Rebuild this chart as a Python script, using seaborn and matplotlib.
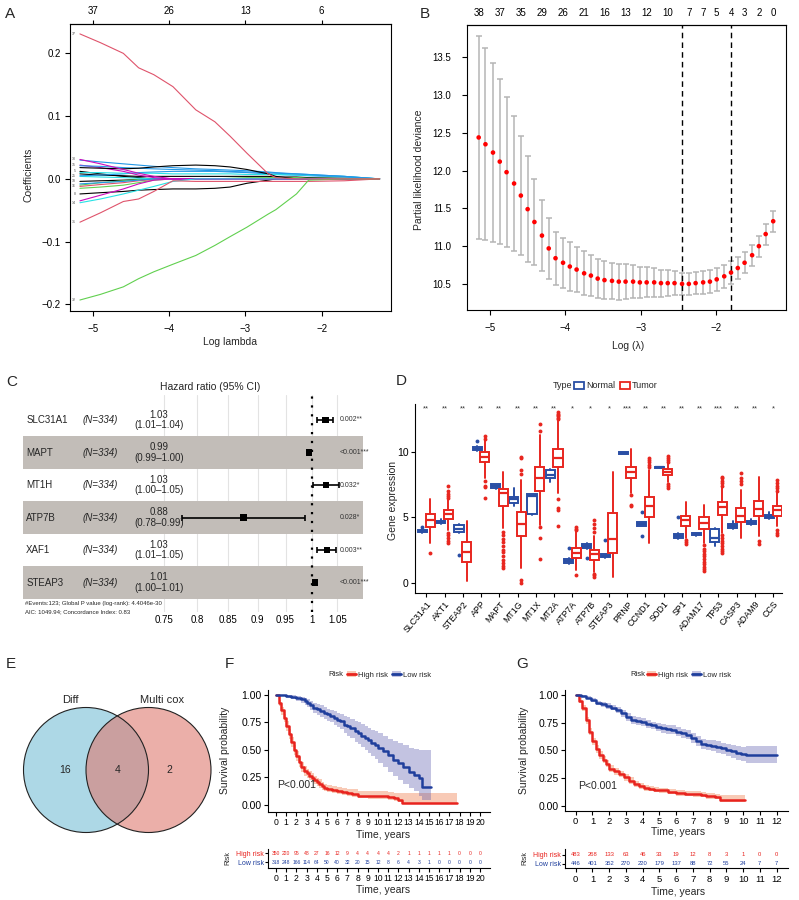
import numpy as np
import matplotlib
matplotlib.use("Agg")
import matplotlib.pyplot as plt
import seaborn as sns
from matplotlib.patches import Circle, Patch
from matplotlib.lines import Line2D

# ---------------- A: lasso coefficient paths ----------------
lasso_loglam = [-5.17, -4.9, -4.6, -4.4, -4.2, -3.95, -3.65, -3.4, -3.2, -2.98, -2.7, -2.6, -2.33, -2.17, -1.7, -1.24]
p_red37 = [0.231, 0.217, 0.200, 0.177, 0.166, 0.147, 0.110, 0.091, 0.068, 0.041, 0.008, 0.002, 0, 0, 0, 0]
p_green32 = [-0.193, -0.184, -0.172, -0.159, -0.148, -0.136, -0.122, -0.106, -0.092, -0.077, -0.056, -0.049, -0.024, -0.002, 0, 0]
p_red31 = [-0.069, -0.054, -0.036, -0.032, -0.020, -0.003, -0.004, -0.004, -0.004, -0.004, -0.004, -0.004, -0.004, -0.004, -0.003, 0]
p_cyan1 = [-0.038, -0.032, -0.024, -0.018, -0.012, -0.004, 0, 0, 0, 0, 0, 0, 0, 0, 0, 0]
p_cyan2 = [0.010, 0.010, 0.009, 0.009, 0.009, 0.008, 0.008, 0.008, 0.008, 0.007, 0.007, 0.007, 0.006, 0.006, 0.004, 0]
p_mag1 = [0.031, 0.024, 0.015, 0.009, 0.004, 0, 0, 0, 0, 0, 0, 0, 0, 0, 0, 0]
p_mag2 = [-0.035, -0.026, -0.016, -0.008, -0.002, 0, 0, 0, 0, 0, 0, 0, 0, 0, 0, 0]
p_mag3 = [0.022, 0.018, 0.012, 0.006, 0.002, 0, 0, 0, 0, 0, 0, 0, 0, 0, 0, 0]
p_blue1 = [0.030, 0.027, 0.024, 0.022, 0.020, 0.018, 0.016, 0.015, 0.014, 0.013, 0.011, 0.010, 0.008, 0.007, 0.004, 0]
p_blue2 = [0.021, 0.020, 0.018, 0.017, 0.016, 0.015, 0.014, 0.013, 0.012, 0.011, 0.010, 0.009, 0.008, 0.007, 0.004, 0]
p_blue3 = [-0.008, -0.006, -0.004, -0.002, 0, 0, 0, 0, 0, 0, 0, 0, 0, 0, 0, 0]
p_blue4 = [0.005, 0.006, 0.008, 0.010, 0.011, 0.012, 0.012, 0.012, 0.011, 0.010, 0.008, 0.007, 0.006, 0.005, 0.003, 0]
p_black1 = [0.018, 0.017, 0.016, 0.017, 0.019, 0.021, 0.022, 0.021, 0.019, 0.015, 0.008, 0.004, 0, 0, 0, 0]
p_black2 = [-0.024, -0.022, -0.020, -0.018, -0.017, -0.016, -0.016, -0.015, -0.013, -0.007, -0.002, 0, 0, 0, 0, 0]
p_black3 = [0.008, 0.006, 0.005, 0.004, 0.004, 0.004, 0.004, 0.004, 0.004, 0.004, 0.004, 0.003, 0.003, 0.002, 0.001, 0]
p_black4 = [0.012, 0.008, 0.004, 0.002, 0, 0, 0, 0, 0, 0, 0, 0, 0, 0, 0, 0]
p_black5 = [-0.004, -0.003, -0.002, -0.001, 0, 0, 0, 0, 0, 0, 0, 0, 0, 0, 0, 0]
p_green2 = [-0.015, -0.013, -0.010, -0.006, -0.002, 0, 0, 0, 0, 0, 0, 0, 0, 0, 0, 0]
p_green3 = [-0.010, -0.006, -0.003, -0.001, 0, 0, 0, 0, 0.001, 0.002, 0.002, 0.002, 0.002, 0.001, 0.001, 0]
p_red4 = [-0.012, -0.009, -0.006, -0.003, -0.001, 0, 0, 0, 0, 0, 0, 0, 0, 0, 0, 0]
p_cyan3 = [0.004, 0.003, 0.002, 0.001, 0, 0, 0, 0, 0, 0, 0, 0, 0, 0, 0, 0]
lasso_paths = [p_black3, p_black4, p_black5, p_green2, p_green3, p_red4, p_cyan3, p_blue3, p_blue4,
               p_cyan2, p_mag3, p_blue2, p_blue1, p_black2, p_black1, p_mag2, p_mag1, p_cyan1,
               p_red31, p_green32, p_red37]
lasso_colors = ["black", "black", "black", "#61D04F", "#61D04F", "#DF536B", "#28E2E5", "#2297E6", "#2297E6",
                "#28E2E5", "#CD0BBC", "#2297E6", "#2297E6", "black", "black", "#CD0BBC", "#CD0BBC", "#28E2E5",
                "#DF536B", "#61D04F", "#DF536B"]
# variable index printed at the left end of a path ("" = hidden under the cluster)
lasso_tags = ["", "5", "18", "", "", "16", "", "", "25", "", "35", "", "", "8", "", "",
              "30", "14", "31", "32", "37"]
lasso_top_ticks = [-5, -4, -3, -2]
lasso_top_labels = ["37", "26", "13", "6"]

# ---------------- B: cross-validation curve ----------------
cv_loglam = [-5.15, -5.06, -4.96, -4.87, -4.78, -4.68, -4.59, -4.50, -4.41, -4.31, -4.22, -4.13, -4.03, -3.94,
             -3.85, -3.75, -3.66, -3.57, -3.48, -3.38, -3.29, -3.20, -3.10, -3.01, -2.92, -2.82, -2.73, -2.64,
             -2.55, -2.45, -2.36, -2.27, -2.17, -2.08, -1.99, -1.89, -1.80, -1.71, -1.62, -1.52, -1.43, -1.34, -1.24]
cv_mean = [12.44, 12.35, 12.24, 12.12, 11.98, 11.83, 11.67, 11.49, 11.32, 11.14, 10.97, 10.84, 10.78, 10.73,
           10.69, 10.64, 10.61, 10.57, 10.55, 10.54, 10.53, 10.53, 10.53, 10.52, 10.52, 10.52, 10.51, 10.51,
           10.51, 10.50, 10.50, 10.51, 10.52, 10.53, 10.56, 10.60, 10.65, 10.71, 10.78, 10.88, 11.00, 11.16, 11.33]
cv_se = [1.35, 1.27, 1.18, 1.09, 0.99, 0.90, 0.79, 0.70, 0.57, 0.47, 0.40, 0.35, 0.33, 0.32, 0.30, 0.29,
         0.27, 0.26, 0.25, 0.24, 0.24, 0.23, 0.22, 0.21, 0.20, 0.19, 0.18, 0.17, 0.16, 0.15, 0.15, 0.15,
         0.15, 0.15, 0.15, 0.15, 0.15, 0.15, 0.14, 0.14, 0.14, 0.14, 0.14]
cv_top_idx = [0, 3, 6, 9, 12, 15, 18, 21, 24, 27, 30, 32, 34, 36, 38, 40, 42]
cv_top_labels = ["38", "37", "35", "29", "26", "21", "16", "13", "12", "10", "7", "7", "5", "4", "3", "2", "0"]
log_lambda_min = -2.45
log_lambda_1se = -1.80

# ---------------- C: multivariate Cox forest ----------------
cox_genes = ["SLC31A1", "MAPT", "MT1H", "ATP7B", "XAF1", "STEAP3"]
cox_n = 334
cox_hr = [1.026, 0.994, 1.027, 0.876, 1.029, 1.006]
cox_lo = [1.010, 0.990, 1.001, 0.778, 1.010, 1.003]
cox_hi = [1.041, 0.998, 1.054, 0.986, 1.047, 1.009]
cox_p = ["0.002", "<0.001", "0.032", "0.028", "0.003", "<0.001"]
cox_stars = ["**", "***", "*", "*", "**", "***"]
hr_ticks = [0.75, 0.8, 0.85, 0.9, 0.95, 1, 1.05]
hr_tick_labels = ["0.75", "0.8", "0.85", "0.9", "0.95", "1", "1.05"]
cox_note1 = "#Events:123; Global P value (log-rank): 4.4046e-30"
cox_note2 = "AIC: 1049.94; Concordance Index: 0.83"

# ---------------- D: expression boxplots ----------------
genes = ["SLC31A1", "AKT1", "STEAP2", "APP", "MAPT", "MT1G", "MT1X", "MT2A", "ATP7A", "ATP7B",
         "STEAP3", "PRNP", "CCND1", "SOD1", "SP1", "ADAM17", "TP53", "CASP3", "ADAM9", "CCS"]
sig_marks = ["**", "**", "**", "**", "**", "**", "**", "**", "*", "*", "*", "***", "**", "**", "**",
             "**", "***", "**", "**", "*"]
# whislo, q1, median, q3, whishi
normal_box = [[3.75, 3.85, 3.95, 4.03, 4.20], [4.50, 4.58, 4.65, 4.72, 4.85], [3.77, 3.85, 4.10, 4.40, 4.50],
              [10.05, 10.12, 10.23, 10.34, 10.45], [7.15, 7.22, 7.38, 7.50, 7.55], [5.85, 6.11, 6.36, 6.56, 7.25],
              [5.20, 5.25, 6.65, 6.75, 6.80], [7.66, 7.96, 8.22, 8.60, 8.68], [1.45, 1.52, 1.65, 1.80, 1.85],
              [2.60, 2.65, 2.80, 2.97, 3.00], [1.90, 1.93, 2.04, 2.18, 2.20], [9.80, 9.84, 9.90, 9.96, 10.00],
              [4.30, 4.35, 4.48, 4.60, 4.65], [8.72, 8.75, 8.80, 8.84, 8.86], [3.31, 3.40, 3.56, 3.70, 3.75],
              [3.58, 3.62, 3.69, 3.75, 3.78], [2.82, 3.10, 3.44, 4.10, 4.15], [4.10, 4.17, 4.33, 4.47, 4.70],
              [4.40, 4.45, 4.58, 4.70, 4.86], [4.86, 4.90, 5.01, 5.15, 5.42]]
normal_out = [[4.25], [], [2.11], [10.81], [], [], [], [], [2.62], [1.86], [3.26], [], [5.42, 3.59], [],
              [5.04], [], [], [], [], []]
tumor_box = [[3.00, 4.27, 4.76, 5.24, 6.36], [4.00, 4.89, 5.24, 5.55, 6.30], [0.08, 1.60, 2.37, 3.08, 4.71],
             [8.02, 9.19, 9.59, 9.95, 10.90], [4.15, 5.88, 6.82, 7.15, 8.47], [1.09, 3.56, 4.48, 5.39, 7.84],
             [4.40, 7.02, 7.96, 8.80, 11.30], [6.82, 8.80, 9.52, 10.20, 12.40], [0.97, 1.91, 2.29, 2.62, 3.89],
             [0.84, 1.73, 2.19, 2.49, 3.59], [0.46, 2.24, 3.33, 5.32, 8.42], [6.82, 8.02, 8.42, 8.80, 10.18],
             [3.00, 5.01, 5.88, 6.54, 8.60], [7.66, 8.24, 8.47, 8.68, 9.11], [3.38, 4.35, 4.76, 5.11, 6.13],
             [3.00, 4.10, 4.58, 5.04, 5.93], [3.77, 5.17, 5.80, 6.18, 7.33], [3.44, 4.66, 5.11, 5.73, 7.07],
             [3.59, 5.09, 5.62, 6.23, 8.09], [4.33, 5.11, 5.55, 5.88, 6.95]]
tumor_out = [[2.24],
             [3.0, 3.2, 3.4, 3.6, 3.8, 6.5, 6.6, 6.8, 7.0, 7.4],
             [],
             [7.75, 7.4, 7.3, 6.44, 11.0, 11.2],
             [3.9, 3.6, 3.3, 3.1, 2.8, 2.5, 2.3, 2.0, 1.7, 1.5, 1.3, 1.1],
             [8.27, 8.6, 9.5, 9.6, 0.2, 0.0],
             [4.27, 3.38, 1.78, 11.6, 12.09],
             [6.39, 5.67, 5.55, 4.33, 12.5, 12.6, 12.7, 12.8, 12.9, 13.05],
             [4.0, 4.1, 4.27, 0.59],
             [3.9, 4.2, 4.5, 4.78, 0.66, 0.55, 0.45],
             [],
             [6.69, 5.93, 5.85],
             [8.8, 9.0, 9.2, 9.4, 9.55],
             [9.24, 9.4, 9.55, 9.7, 7.5, 7.35, 7.2],
             [3.26, 3.1, 2.93],
             [2.87, 2.6, 2.4, 2.2, 2.0, 1.8, 1.6, 1.4, 1.2, 1.0, 0.89],
             [7.4, 7.6, 7.8, 8.0, 8.09, 3.64, 3.4, 3.2, 3.0, 2.8, 2.6, 2.4, 2.24],
             [7.5, 7.8, 8.0, 8.35],
             [3.2, 2.95],
             [7.0, 7.2, 7.4, 7.6, 7.84, 4.0, 3.8, 3.64]]

# ---------------- E: Venn ----------------
venn_sets = ["Diff", "Multi cox"]
venn_counts = [16, 4, 2]

# ---------------- F: KM training ----------------
f_hi_t = [0, 0.25, 0.5, 0.75, 1.0, 1.25, 1.5, 1.75, 2.0, 2.25, 2.5, 2.75, 3.0, 3.25, 3.5, 3.75, 4.0, 4.25,
          4.5, 4.75, 5.0, 5.5, 6.0, 6.5, 7.0, 7.5, 8.0, 9.0, 10.0, 11.0, 11.6, 12.0, 12.4, 17.7]
f_hi_s = [1.0, 0.93, 0.86, 0.79, 0.72, 0.645, 0.57, 0.50, 0.44, 0.39, 0.345, 0.31, 0.285, 0.265, 0.245, 0.225,
          0.205, 0.19, 0.165, 0.152, 0.145, 0.135, 0.125, 0.115, 0.108, 0.10, 0.08, 0.076, 0.074, 0.072, 0.06,
          0.04, 0.015, 0.015]
f_hi_up = [1.0, 0.955, 0.895, 0.83, 0.765, 0.69, 0.615, 0.545, 0.485, 0.435, 0.39, 0.355, 0.325, 0.305, 0.285,
           0.265, 0.245, 0.23, 0.205, 0.19, 0.18, 0.17, 0.16, 0.15, 0.145, 0.14, 0.125, 0.12, 0.12, 0.118, 0.11,
           0.105, 0.105, 0.105]
f_hi_lo = [1.0, 0.90, 0.82, 0.75, 0.675, 0.60, 0.525, 0.455, 0.395, 0.345, 0.30, 0.265, 0.245, 0.225, 0.205,
           0.19, 0.17, 0.155, 0.13, 0.12, 0.113, 0.103, 0.093, 0.083, 0.077, 0.07, 0.058, 0.052, 0.05, 0.046,
           0.036, 0.02, 0.003, 0.003]
f_lo_t = [0, 0.5, 1.0, 1.5, 2.0, 2.5, 2.8, 3.0, 3.3, 3.6, 4.0, 4.3, 4.7, 5.0, 5.3, 5.7, 6.0, 6.3, 6.7, 7.0,
          7.3, 7.7, 8.0, 8.3, 8.7, 9.0, 9.3, 9.7, 10.0, 10.5, 11.0, 11.5, 12.0, 12.5, 13.0, 13.5, 14.0, 14.3, 15.2]
f_lo_s = [1.0, 1.0, 0.99, 0.985, 0.975, 0.96, 0.945, 0.93, 0.905, 0.885, 0.87, 0.855, 0.84, 0.825, 0.81, 0.79,
          0.775, 0.76, 0.73, 0.715, 0.70, 0.67, 0.655, 0.63, 0.61, 0.585, 0.565, 0.54, 0.515, 0.49, 0.45, 0.41,
          0.38, 0.34, 0.30, 0.27, 0.24, 0.16, 0.16]
f_lo_up = [1.0, 1.0, 1.0, 1.0, 0.995, 0.985, 0.975, 0.965, 0.945, 0.93, 0.92, 0.905, 0.89, 0.875, 0.865, 0.85,
           0.84, 0.83, 0.81, 0.80, 0.785, 0.765, 0.75, 0.735, 0.72, 0.70, 0.685, 0.67, 0.655, 0.63, 0.60, 0.58,
           0.56, 0.54, 0.52, 0.51, 0.50, 0.50, 0.50]
f_lo_lo = [1.0, 1.0, 0.975, 0.965, 0.95, 0.93, 0.91, 0.895, 0.865, 0.84, 0.82, 0.80, 0.785, 0.765, 0.75, 0.725,
           0.705, 0.69, 0.65, 0.63, 0.61, 0.575, 0.555, 0.525, 0.50, 0.47, 0.445, 0.415, 0.38, 0.345, 0.30, 0.26,
           0.22, 0.19, 0.15, 0.12, 0.08, 0.04, 0.04]
f_risk_hi = [350, 220, 95, 48, 27, 16, 12, 9, 4, 4, 4, 4, 2, 1, 1, 1, 1, 1, 0, 0, 0]
f_risk_lo = [318, 248, 166, 114, 64, 50, 40, 32, 20, 15, 12, 8, 6, 4, 3, 1, 0, 0, 0, 0, 0]

# ---------------- G: KM validation ----------------
g_hi_t = [0, 0.2, 0.4, 0.6, 0.8, 1.0, 1.2, 1.4, 1.6, 1.8, 2.0, 2.3, 2.6, 2.9, 3.2, 3.5, 3.8, 4.1, 4.4, 4.7,
          5.0, 5.5, 6.0, 6.5, 7.0, 7.5, 7.8, 8.3, 8.6, 10.1]
g_hi_s = [1.0, 0.95, 0.88, 0.77, 0.67, 0.58, 0.515, 0.46, 0.415, 0.38, 0.335, 0.31, 0.285, 0.255, 0.225, 0.195,
          0.175, 0.16, 0.155, 0.145, 0.138, 0.128, 0.115, 0.108, 0.105, 0.10, 0.088, 0.082, 0.052, 0.052]
g_hi_up = [1.0, 0.97, 0.905, 0.80, 0.70, 0.615, 0.55, 0.495, 0.45, 0.41, 0.365, 0.34, 0.315, 0.285, 0.255,
           0.225, 0.205, 0.185, 0.18, 0.17, 0.163, 0.153, 0.14, 0.133, 0.13, 0.125, 0.113, 0.107, 0.10, 0.10]
g_hi_lo = [1.0, 0.93, 0.855, 0.74, 0.64, 0.545, 0.48, 0.425, 0.385, 0.35, 0.305, 0.28, 0.255, 0.225, 0.195,
           0.165, 0.148, 0.135, 0.13, 0.12, 0.113, 0.103, 0.09, 0.083, 0.08, 0.075, 0.063, 0.057, 0.03, 0.03]
g_lo_t = [0, 0.3, 0.6, 0.9, 1.2, 1.5, 1.8, 2.1, 2.4, 2.7, 3.0, 3.3, 3.6, 3.9, 4.2, 4.5, 4.8, 5.1, 5.4, 5.7,
          6.0, 6.3, 6.6, 6.9, 7.2, 7.5, 7.8, 8.1, 8.4, 8.7, 9.0, 9.3, 9.6, 9.9, 10.2, 12.05]
g_lo_s = [1.0, 0.99, 0.975, 0.955, 0.93, 0.915, 0.90, 0.885, 0.865, 0.835, 0.80, 0.775, 0.765, 0.755, 0.74,
          0.725, 0.71, 0.70, 0.69, 0.685, 0.67, 0.655, 0.64, 0.615, 0.585, 0.555, 0.545, 0.54, 0.53, 0.52,
          0.505, 0.49, 0.475, 0.465, 0.455, 0.455]
g_lo_up = [1.0, 1.0, 0.99, 0.975, 0.95, 0.94, 0.925, 0.91, 0.895, 0.865, 0.835, 0.81, 0.80, 0.79, 0.775, 0.76,
           0.745, 0.74, 0.73, 0.725, 0.71, 0.695, 0.68, 0.66, 0.63, 0.60, 0.59, 0.59, 0.58, 0.57, 0.56, 0.545,
           0.535, 0.53, 0.535, 0.535]
g_lo_lo = [1.0, 0.98, 0.96, 0.935, 0.91, 0.89, 0.875, 0.86, 0.835, 0.805, 0.765, 0.74, 0.73, 0.72, 0.705,
           0.69, 0.675, 0.66, 0.65, 0.645, 0.63, 0.615, 0.60, 0.57, 0.54, 0.51, 0.50, 0.49, 0.48, 0.47, 0.45,
           0.435, 0.415, 0.40, 0.385, 0.385]
g_risk_hi = [483, 268, 133, 63, 46, 33, 19, 12, 8, 3, 1, 0, 0]
g_risk_lo = [446, 401, 352, 270, 220, 179, 137, 88, 72, 55, 24, 7, 7]

# ---------------- styling ----------------
sns.set_theme(style="ticks", rc={"axes.edgecolor": "black", "axes.linewidth": 0.8,
                                 "xtick.color": "black", "ytick.color": "black",
                                 "xtick.major.width": 0.8, "ytick.major.width": 0.8})
plt.rcParams["font.family"] = ["Liberation Sans", "DejaVu Sans"]

C_NORM, C_TUM = "#2A4FA5", "#E8261F"
C_HIGH, C_LOW = "#E8231E", "#1F3E9C"
BAND_HIGH, BAND_LOW = "#F08A5D", "#5555AA"

W, H = 799, 900
fig = plt.figure(figsize=(W / 100, H / 100), dpi=100)


def box(x0, y0, x1, y1):
    return fig.add_axes([x0 / W, 1 - y1 / H, (x1 - x0) / W, (y1 - y0) / H])


def ftext(x, y, s, **kw):
    kw.setdefault("ha", "center")
    kw.setdefault("va", "center")
    fig.text(x / W, 1 - y / H, s, **kw)


def minus(v, fmt):
    return (fmt % v).replace("-", "\u2212")


for letter, (lx, ly) in {"A": (10, 14), "B": (425, 14), "C": (12, 382), "D": (401, 381),
                         "E": (11, 664), "F": (229, 664), "G": (522, 664)}.items():
    ftext(lx, ly, letter, fontsize=11)

# ---- A ----
axA = box(70, 24, 391, 311)
for vals, col in zip(lasso_paths, lasso_colors):
    sns.lineplot(x=lasso_loglam, y=vals, color=col, linewidth=0.8, ax=axA)
for vals, tag in zip(lasso_paths, lasso_tags):
    if tag:
        axA.text(lasso_loglam[0] - 0.05, vals[0], tag, fontsize=2.5, ha="right", va="center", color="0.3")
axA.set_xlim(-5.30, -1.09)
axA.set_ylim(-0.2105, 0.2468)
axA.set_xticks([-5, -4, -3, -2], [minus(v, "%d") for v in [-5, -4, -3, -2]])
yt = [-0.2, -0.1, 0.0, 0.1, 0.2]
axA.set_yticks(yt, [minus(v, "%.1f") for v in yt])
axA.tick_params(axis="y", length=3.6, pad=3, labelsize=7)
axA.tick_params(axis="x", length=3.6, pad=6, labelsize=7)
axA.set_xlabel("")
axA.set_ylabel("")
topA = axA.secondary_xaxis("top")
topA.set_xticks(lasso_top_ticks, lasso_top_labels)
topA.tick_params(length=3, pad=2.5, labelsize=7)
ftext(230, 342, "Log lambda", fontsize=7.5)
ftext(29, 175, "Coefficients", rotation=90, fontsize=7.5)

# ---- B ----
axB = box(467, 25, 786, 310)
axB.errorbar(cv_loglam, cv_mean, yerr=cv_se, fmt="none", ecolor="#B5B5B5", elinewidth=1.1,
             capsize=2.2, capthick=1.1, zorder=1)
sns.scatterplot(x=cv_loglam, y=cv_mean, color="red", s=11, edgecolor="none", ax=axB, zorder=3)
for v in (log_lambda_min, log_lambda_1se):
    axB.axvline(v, color="black", ls=(0, (4, 3)), lw=1.0, zorder=2)
axB.set_xlim(-5.305, -1.07)
axB.set_ylim(10.154, 13.93)
axB.set_xticks([-5, -4, -3, -2], [minus(v, "%d") for v in [-5, -4, -3, -2]])
ybt = [10.5, 11.0, 11.5, 12.0, 12.5, 13.0, 13.5]
axB.set_yticks(ybt, ["%.1f" % v for v in ybt])
axB.tick_params(axis="y", length=3.6, pad=8, labelsize=7)
axB.tick_params(axis="x", length=3.6, pad=6, labelsize=7)
axB.set_xlabel("")
axB.set_ylabel("")
topB = axB.secondary_xaxis("top")
topB.set_xticks([cv_loglam[i] for i in cv_top_idx], cv_top_labels)
topB.tick_params(length=0, pad=5, labelsize=7)
ftext(628, 346, "Log (\u03bb)", fontsize=7.5)
ftext(419, 170, "Partial likelihood deviance", rotation=90, fontsize=7.5)

# ---- C ----
axC = box(23, 395, 363, 612)
rows = np.arange(len(cox_genes))
lhr, llo, lhi = np.log(cox_hr), np.log(cox_lo), np.log(cox_hi)
axC.set_xlim(-0.560, 0.0988)
axC.set_ylim(5.9, -0.767)
for t in hr_ticks:
    axC.axvline(np.log(t), color="#E3E3E3", lw=0.8, zorder=0)
for i in rows[1::2]:
    axC.axhspan(i - 0.5, i + 0.5, color="#C2BDB8", lw=0, zorder=1)
axC.axvline(0, color="black", ls=(0, (1, 3)), lw=1.6, zorder=4)
axC.errorbar(lhr, rows, xerr=[lhr - llo, lhi - lhr], fmt="none", ecolor="black", elinewidth=1.2,
             capsize=2.2, capthick=1.2, zorder=5)
sns.scatterplot(x=lhr, y=rows, marker="s", s=22, color="black", edgecolor="none", ax=axC, zorder=6)
for i, g in enumerate(cox_genes):
    axC.text(-0.554, i, g, ha="left", va="center", fontsize=7, zorder=7)
    axC.text(-0.4438, i, f"(N={cox_n})", ha="left", va="center", fontsize=7, style="italic", zorder=7)
    axC.text(-0.2965, i - 0.16, f"{cox_hr[i]:.2f}", ha="center", va="center", fontsize=7, zorder=7)
    axC.text(-0.2965, i + 0.16, f"({cox_lo[i]:.2f}\u2013{cox_hi[i]:.2f})", ha="center", va="center",
             fontsize=7, zorder=7)
    axC.text(0.0543, i, cox_p[i] + cox_stars[i], ha="left", va="center", fontsize=5, color="#333333", zorder=7)
axC.set_xticks(np.log(hr_ticks), hr_tick_labels)
axC.set_yticks([])
axC.tick_params(axis="x", length=0, pad=2, labelsize=7)
for sp in axC.spines.values():
    sp.set_visible(False)
axC.set_xlabel("")
axC.set_ylabel("")
ftext(210, 387, "Hazard ratio (95% CI)", fontsize=7.5)
ftext(25, 603, cox_note1, ha="left", fontsize=4.3)
ftext(25, 612, cox_note2, ha="left", fontsize=4.3)

# ---- D ----
axD = box(415, 404, 782, 593)
pos = np.arange(len(genes))
for rows_, outs, off, col in [(normal_box, normal_out, -0.21, C_NORM), (tumor_box, tumor_out, 0.21, C_TUM)]:
    stats = [dict(whislo=r[0], q1=r[1], med=r[2], q3=r[3], whishi=r[4], fliers=o) for r, o in zip(rows_, outs)]
    axD.bxp(stats, positions=pos + off, widths=0.5, patch_artist=True, showcaps=False,
            boxprops=dict(facecolor="white", edgecolor=col, linewidth=1.4),
            medianprops=dict(color=col, linewidth=1.6),
            whiskerprops=dict(color=col, linewidth=1.4),
            flierprops=dict(marker="o", markerfacecolor=col, markeredgecolor="none", markersize=2.8))
for i, m in enumerate(sig_marks):
    axD.text(i, 13.3, m, ha="center", va="center", fontsize=5.5, color="#333333")
axD.set_xlim(-0.62, 19.48)
axD.set_ylim(-0.8, 13.65)
axD.set_xticks(pos, genes, rotation=50, ha="right", rotation_mode="anchor")
axD.set_yticks([0, 5, 10])
axD.tick_params(axis="x", length=3, pad=1.5, labelsize=6.3)
axD.tick_params(axis="y", length=3, pad=1.5, labelsize=7.5)
sns.despine(ax=axD)
ftext(393, 500, "Gene expression", rotation=90, fontsize=7.5)
ftext(553, 386, "Type", ha="left", fontsize=6.5)
fig.legend([Patch(facecolor="white", edgecolor=c, lw=1.3) for c in (C_NORM, C_TUM)], ["Normal", "Tumor"],
           loc="center left", bbox_to_anchor=(574 / W, 1 - 386 / H), ncol=2, frameon=False, fontsize=6.5,
           handlelength=1.1, handleheight=0.8, handletextpad=0.25, columnspacing=0.5, borderpad=0,
           borderaxespad=0)

# ---- E ----
axE = box(10, 690, 225, 845)
axE.set_xlim(-1.716, 1.724)
axE.set_ylim(-1.2, 1.28)
axE.axis("off")
axE.add_patch(Circle((-0.5, 0), 1, facecolor="#ADD8E6", edgecolor="none"))
axE.add_patch(Circle((0.5, 0), 1, facecolor="#DF7A70", alpha=0.6, edgecolor="none"))
for cx in (-0.5, 0.5):
    axE.add_patch(Circle((cx, 0), 1, fill=False, edgecolor="#222222", lw=0.8))
for x, n in zip([-0.84, 0.0, 0.83], venn_counts):
    axE.text(x, 0, str(n), ha="center", va="center", fontsize=7.5)
axE.text(-0.756, 1.12, venn_sets[0], ha="center", va="center", fontsize=8)
axE.text(0.716, 1.12, venn_sets[1], ha="center", va="center", fontsize=8)


# ---- F / G ----
def km_panel(main_px, tab_px, xlim, ylim, tab_ylim, curves, risk_hi, risk_lo, tick_fs, num_fs):
    ax = box(*main_px)
    for t, s, lo, up, col, band, a in curves:
        ax.fill_between(t, lo, up, step="post", color=band, alpha=a, lw=0)
        sns.lineplot(x=t, y=s, color=col, linewidth=1.8, drawstyle="steps-post", ax=ax)
    ax.set_xlim(*xlim)
    ax.set_ylim(*ylim)
    ticks = list(range(len(risk_hi)))
    ax.set_xticks(ticks)
    ax.set_yticks([0, 0.25, 0.5, 0.75, 1.0], ["0.00", "0.25", "0.50", "0.75", "1.00"])
    ax.tick_params(axis="x", length=3, pad=1.5, labelsize=tick_fs)
    ax.tick_params(axis="y", length=3, pad=1.5, labelsize=7.5)
    ax.set_xlabel("")
    ax.set_ylabel("")
    sns.despine(ax=ax)
    ax.text(0.15, 0.175, "P<0.001", fontsize=7.5, ha="left", va="center")

    tab = box(*tab_px)
    for t in ticks:
        tab.text(t, 1, str(risk_hi[t]), color=C_HIGH, ha="center", va="center", fontsize=num_fs)
        tab.text(t, 0, str(risk_lo[t]), color=C_LOW, ha="center", va="center", fontsize=num_fs)
    tab.set_xlim(*xlim)
    tab.set_ylim(*tab_ylim)
    tab.set_xticks(ticks)
    tab.set_yticks([1, 0], ["High risk", "Low risk"])
    for lab, c in zip(tab.get_yticklabels(), (C_HIGH, C_LOW)):
        lab.set_color(c)
    tab.tick_params(axis="x", length=3, pad=1.5, labelsize=tick_fs)
    tab.tick_params(axis="y", length=2, pad=1, labelsize=5)
    sns.despine(ax=tab)
    return ax, tab


f_curves = [(f_hi_t, f_hi_s, f_hi_lo, f_hi_up, C_HIGH, BAND_HIGH, 0.45),
            (f_lo_t, f_lo_s, f_lo_lo, f_lo_up, C_LOW, BAND_LOW, 0.35)]
km_panel((268, 690, 490, 812), (268, 849, 490, 868), (-0.78, 20.98), (-0.068, 1.046), (-0.633, 1.48),
         f_curves, f_risk_hi, f_risk_lo, 6.2, 3.6)
ftext(383, 835, "Time, years", fontsize=7.5)
ftext(383, 890, "Time, years", fontsize=7.5)
ftext(225, 750, "Survival probability", rotation=90, fontsize=7.5)
ftext(228, 858, "Risk", rotation=90, fontsize=5)

g_curves = [(g_hi_t, g_hi_s, g_hi_lo, g_hi_up, C_HIGH, BAND_HIGH, 0.45),
            (g_lo_t, g_lo_s, g_lo_lo, g_lo_up, C_LOW, BAND_LOW, 0.35)]
km_panel((565, 690, 788, 811), (565, 849, 788, 868.3), (-0.64, 12.68), (-0.048, 1.045), (-0.53, 1.69),
         g_curves, g_risk_hi, g_risk_lo, 6.8, 4.2)
ftext(678, 832, "Time, years", fontsize=7.5)
ftext(678, 892, "Time, years", fontsize=7.5)
ftext(524, 750, "Survival probability", rotation=90, fontsize=7.5)
ftext(525, 858, "Risk", rotation=90, fontsize=5)

# KM legends
for risk_x, leg_x in ((336, 347), (638, 647)):
    ftext(risk_x, 675, "Risk", fontsize=5.5)
    hands = [(Patch(facecolor=BAND_HIGH, alpha=0.45, lw=0), Line2D([], [], color=C_HIGH, lw=2)),
             (Patch(facecolor=BAND_LOW, alpha=0.35, lw=0), Line2D([], [], color=C_LOW, lw=2))]
    fig.legend(hands, ["High risk", "Low risk"], loc="center left", bbox_to_anchor=(leg_x / W, 1 - 675 / H),
               ncol=2, frameon=False, fontsize=5.5, handlelength=1.2, handleheight=0.7, handletextpad=0.3,
               columnspacing=0.4, borderpad=0, borderaxespad=0)

fig.savefig("out.png", dpi=100)
